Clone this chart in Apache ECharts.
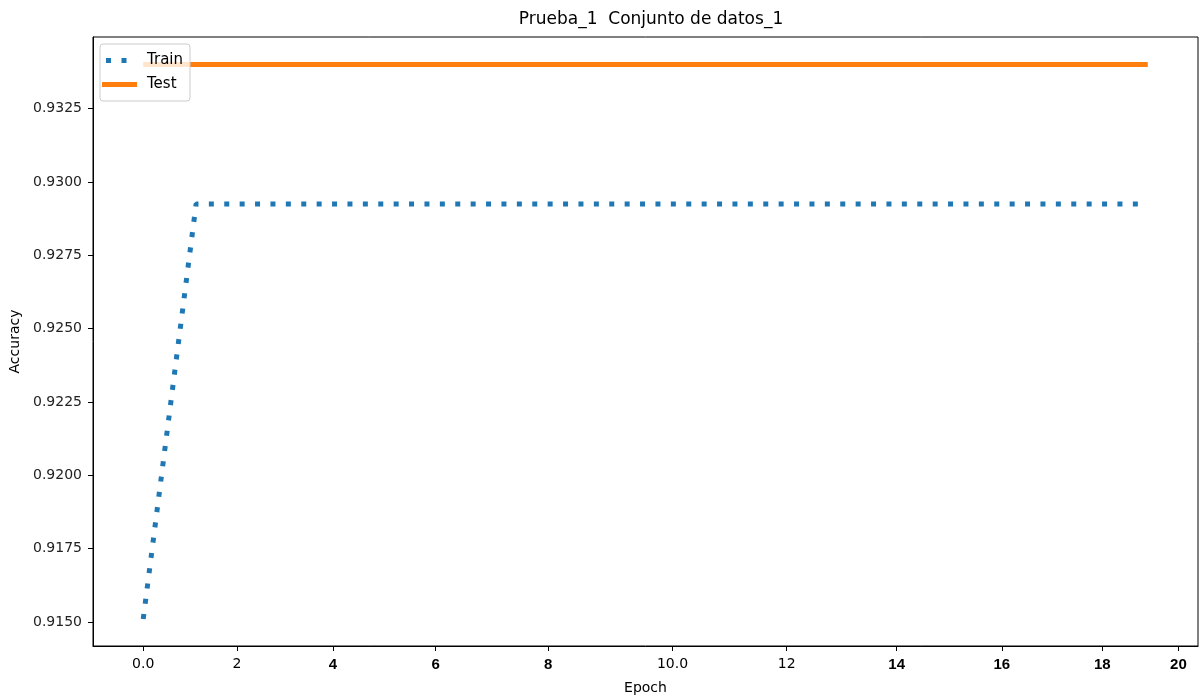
<!DOCTYPE html>
<html>
<head>
<meta charset="utf-8">
<script src="https://cdn.jsdelivr.net/npm/echarts@6/dist/echarts.min.js"></script>
<style>html,body{margin:0;padding:0;background:#fff}#c{width:1203px;height:698px}</style>
</head>
<body>
<div id="c"></div>
<script>
// ---- data ----
const epochs = [0,1,2,3,4,5,6,7,8,9,10,11,12,13,14,15,16,17,18,19];
const trainAcc = [0.9151,0.92925,0.92925,0.92925,0.92925,0.92925,0.92925,0.92925,0.92925,0.92925,0.92925,0.92925,0.92925,0.92925,0.92925,0.92925,0.92925,0.92925,0.92925,0.92925];
const testAcc  = [0.9340,0.9340,0.9340,0.9340,0.9340,0.9340,0.9340,0.9340,0.9340,0.9340,0.9340,0.9340,0.9340,0.9340,0.9340,0.9340,0.9340,0.9340,0.9340,0.9340];
// x tick labels as printed in the picture, and the epoch value where each one sits
const xTickLabels = ['0.0','2','4','6','8','10.0','12','14','16','18','20'];
const xTickAt     = [0, 1.775, 3.59, 5.53, 7.66, 10.01, 12.17, 14.25, 16.24, 18.14, 19.58];
const yTicks = [0.9150,0.9175,0.9200,0.9225,0.9250,0.9275,0.9300,0.9325];
const seriesNames = ['Train','Test'];

// ---- chart ----
const narrow = new Set(['4','6','8','14','16','18','20']);
const chart = echarts.init(document.getElementById('c'));
const font = 'DejaVu Sans';
chart.setOption({
  animation: false,
  title: {
    text: 'Prueba_1  Conjunto de datos_1',
    left: 646, top: 6, textAlign: 'center',
    textStyle: {fontFamily: font, fontSize: 17, fontWeight: 'normal', color: '#000'}
  },
  grid: {left: 93, right: 5, top: 37, bottom: 52, show: true, borderColor: '#000', borderWidth: 1,
         containLabel: false, outerBoundsMode: 'none'},
  legend: {
    data: [
      {name: seriesNames[0], icon: 'path://M0,0h0.1v0.1h-0.1zM4,0h5v5h-5zM19.5,0h5v5h-5zM34.9,4.9h0.1v0.1h-0.1z'},
      {name: seriesNames[1], icon: 'rect'}
    ],
    orient: 'vertical', left: 100, top: 44,
    itemWidth: 35, itemHeight: 5, itemGap: 9,
    padding: [9, 7, 9, 2],
    backgroundColor: 'rgba(255,255,255,0.8)',
    borderColor: '#cccccc', borderWidth: 1, borderRadius: 3,
    textStyle: {fontFamily: font, fontSize: 15, color: '#000', padding: [0, 0, 0, 5]}
  },
  xAxis: {
    type: 'value', min: -0.95, max: 19.95,
    name: 'Epoch', nameLocation: 'middle', nameGap: 35,
    nameTextStyle: {fontFamily: font, fontSize: 14, color: '#000'},
    splitLine: {show: false},
    axisLine: {show: true, onZero: false, lineStyle: {color: '#000'}},
    axisTick: {show: true, length: 5, customValues: xTickAt, lineStyle: {color: '#000'}},
    axisLabel: {
      customValues: xTickAt, margin: 11,
      formatter: v => {
        let best = 0;
        xTickAt.forEach((t, i) => { if (Math.abs(t - v) < Math.abs(xTickAt[best] - v)) best = i; });
        const s = xTickLabels[best];
        return narrow.has(s) ? '{n|' + s + '}' : '{r|' + s + '}';
      },
      rich: {
        r: {fontFamily: font, fontSize: 14, color: '#000'},
        n: {fontFamily: 'Liberation Sans Narrow, Liberation Sans', fontSize: 15, fontWeight: 'bold', color: '#000'}
      }
    }
  },
  yAxis: {
    type: 'value', min: 0.91418, max: 0.93494,
    name: 'Accuracy', nameLocation: 'middle', nameGap: 68,
    nameTextStyle: {fontFamily: font, fontSize: 14, color: '#000'},
    splitLine: {show: false},
    axisLine: {show: true, onZero: false, lineStyle: {color: '#000'}},
    axisTick: {show: true, length: 5, customValues: yTicks, lineStyle: {color: '#000'}},
    axisLabel: {
      customValues: yTicks, margin: 11,
      fontFamily: font, fontSize: 14, color: '#222',
      formatter: v => v.toFixed(4)
    }
  },
  series: [
    {
      name: seriesNames[0], type: 'line', symbol: 'none', z: 3,
      data: epochs.map((e, i) => [e, trainAcc[i]]),
      lineStyle: {color: '#1f77b4', width: 5, type: [5, 10.4], cap: 'butt'},
      itemStyle: {color: '#1f77b4'}
    },
    {
      name: seriesNames[1], type: 'line', symbol: 'none', z: 2,
      data: epochs.map((e, i) => [e, testAcc[i]]),
      lineStyle: {color: '#ff7f0e', width: 5, cap: 'butt'},
      itemStyle: {color: '#ff7f0e'}
    }
  ]
});
</script>
</body>
</html>
